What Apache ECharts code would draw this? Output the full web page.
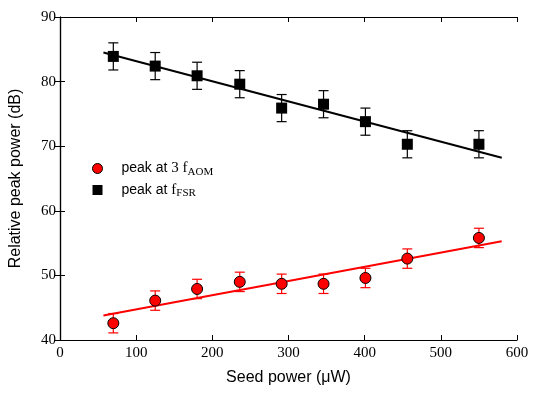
<!DOCTYPE html>
<html>
<head>
<meta charset="utf-8">
<script src="https://cdn.jsdelivr.net/npm/echarts@6/dist/echarts.min.js"></script>
<style>
  html, body { margin: 0; padding: 0; background: #fff; }
  #chart { width: 540px; height: 397px; }
</style>
</head>
<body>
<div id="chart"></div>
<script>
// seed power (uW) for each measurement
const seedPower = [70, 125, 180, 236, 291, 346, 401, 456, 550]
// peak at f_FSR (dB)
const fsrPeak = [83.9, 82.4, 80.9, 79.6, 75.9, 76.5, 73.8, 70.3, 70.3]
const fsrErr = [2.1, 2.1, 2.1, 2.1, 2.1, 2.1, 2.1, 2.1, 2.1]
// peak at 3 f_AOM (dB)
const aomPeak = [42.6, 46.1, 47.9, 49.0, 48.7, 48.7, 49.6, 52.6, 55.8]
const aomErr = [1.5, 1.5, 1.5, 1.5, 1.5, 1.5, 1.5, 1.5, 1.5]
// linear fits
const fsrFit = [[57, 84.5], [580, 68.2]]
const aomFit = [[57, 43.8], [580, 55.3]]

const xTicks = [0, 100, 200, 300, 400, 500, 600]
const yTicks = [40, 50, 60, 70, 80, 90]

const serif = 'Liberation Serif'
const sans = 'Liberation Sans'

function errorData (ys, errs) {
  return seedPower.map((x, i) => [x, ys[i] - errs[i], ys[i] + errs[i]])
}

function errorBars (color) {
  return function (params, api) {
    const x = api.value(0)
    const lo = api.coord([x, api.value(1)])
    const hi = api.coord([x, api.value(2)])
    const half = 5
    const style = { stroke: color, lineWidth: 1.2, fill: null }
    return {
      type: 'group',
      children: [
        { type: 'line', shape: { x1: lo[0], y1: lo[1], x2: hi[0], y2: hi[1] }, style: style },
        { type: 'line', shape: { x1: lo[0] - half, y1: lo[1], x2: lo[0] + half, y2: lo[1] }, style: style },
        { type: 'line', shape: { x1: hi[0] - half, y1: hi[1], x2: hi[0] + half, y2: hi[1] }, style: style }
      ]
    }
  }
}

const axisLine = { show: true, lineStyle: { color: '#000', width: 1.2 } }
const axisTick = { show: true, inside: true, length: 5, lineStyle: { color: '#000' } }

const chart = echarts.init(document.getElementById('chart'))
chart.setOption({
  animation: false,
  grid: { left: 60, right: 23, top: 17, bottom: 57 },
  legend: {
    orient: 'vertical',
    left: 87,
    top: 156,
    itemGap: 5,
    itemWidth: 10,
    itemHeight: 10,
    data: [
      { name: 'aom', icon: 'circle', itemStyle: { color: '#ff0000', borderColor: '#000', borderWidth: 1 } },
      { name: 'fsr', icon: 'rect', itemStyle: { color: '#000' } }
    ],
    formatter: function (name) {
      return name === 'aom'
        ? '{t|peak at }{m|3 f}{s|AOM}'
        : '{t|peak at }{m|f}{s|FSR}'
    },
    textStyle: {
      padding: [0, 0, 0, 14],
      rich: {
        t: { fontFamily: sans, fontSize: 14, color: '#000', lineHeight: 18, verticalAlign: 'middle' },
        m: { fontFamily: serif, fontSize: 15, color: '#000', lineHeight: 18, verticalAlign: 'middle' },
        s: { fontFamily: serif, fontSize: 11, color: '#000', lineHeight: 18, verticalAlign: 'bottom' }
      }
    }
  },
  xAxis: [
    {
      type: 'value', min: 0, max: 600, interval: 100,
      name: 'Seed power (\u03bcW)', nameLocation: 'middle', nameGap: 30,
      nameTextStyle: { fontFamily: sans, fontSize: 16, color: '#000' },
      axisLine: axisLine, axisTick: axisTick, splitLine: { show: false },
      axisLabel: {
        fontFamily: serif, fontSize: 15, color: '#000', margin: 6,
        formatter: v => xTicks.includes(v) ? String(v) : ''
      }
    },
    {
      type: 'value', min: 0, max: 600, interval: 100, position: 'top',
      axisLine: axisLine, axisTick: axisTick, splitLine: { show: false }, axisLabel: { show: false }
    }
  ],
  yAxis: [
    {
      type: 'value', min: 40, max: 90, interval: 10,
      name: 'Relative peak power (dB)', nameLocation: 'middle', nameGap: 36,
      nameTextStyle: { fontFamily: sans, fontSize: 16, color: '#000' },
      axisLine: axisLine, axisTick: axisTick, splitLine: { show: false },
      axisLabel: {
        fontFamily: serif, fontSize: 15, color: '#000', margin: 4,
        formatter: v => yTicks.includes(v) ? String(v) : ''
      }
    },
    {
      type: 'value', min: 40, max: 90, interval: 10, position: 'right',
      axisLine: axisLine, axisTick: axisTick, splitLine: { show: false }, axisLabel: { show: false }
    }
  ],
  series: [
    {
      type: 'line', data: fsrFit, symbol: 'none', silent: true,
      lineStyle: { color: '#000', width: 2 }
    },
    {
      type: 'line', data: aomFit, symbol: 'none', silent: true,
      lineStyle: { color: '#ff0000', width: 2 }
    },
    {
      type: 'custom', renderItem: errorBars('#000'),
      data: errorData(fsrPeak, fsrErr), encode: { x: 0, y: [1, 2] }, z: 3
    },
    {
      type: 'custom', renderItem: errorBars('#ff0000'),
      data: errorData(aomPeak, aomErr), encode: { x: 0, y: [1, 2] }, z: 3
    },
    {
      name: 'fsr', type: 'scatter', symbol: 'rect', symbolSize: 11, z: 4,
      itemStyle: { color: '#000', opacity: 1 },
      data: seedPower.map((x, i) => [x, fsrPeak[i]])
    },
    {
      name: 'aom', type: 'scatter', symbol: 'circle', symbolSize: 11, z: 4,
      itemStyle: { color: '#ff0000', borderColor: '#000', borderWidth: 1, opacity: 1 },
      data: seedPower.map((x, i) => [x, aomPeak[i]])
    }
  ]
})
</script>
</body>
</html>
